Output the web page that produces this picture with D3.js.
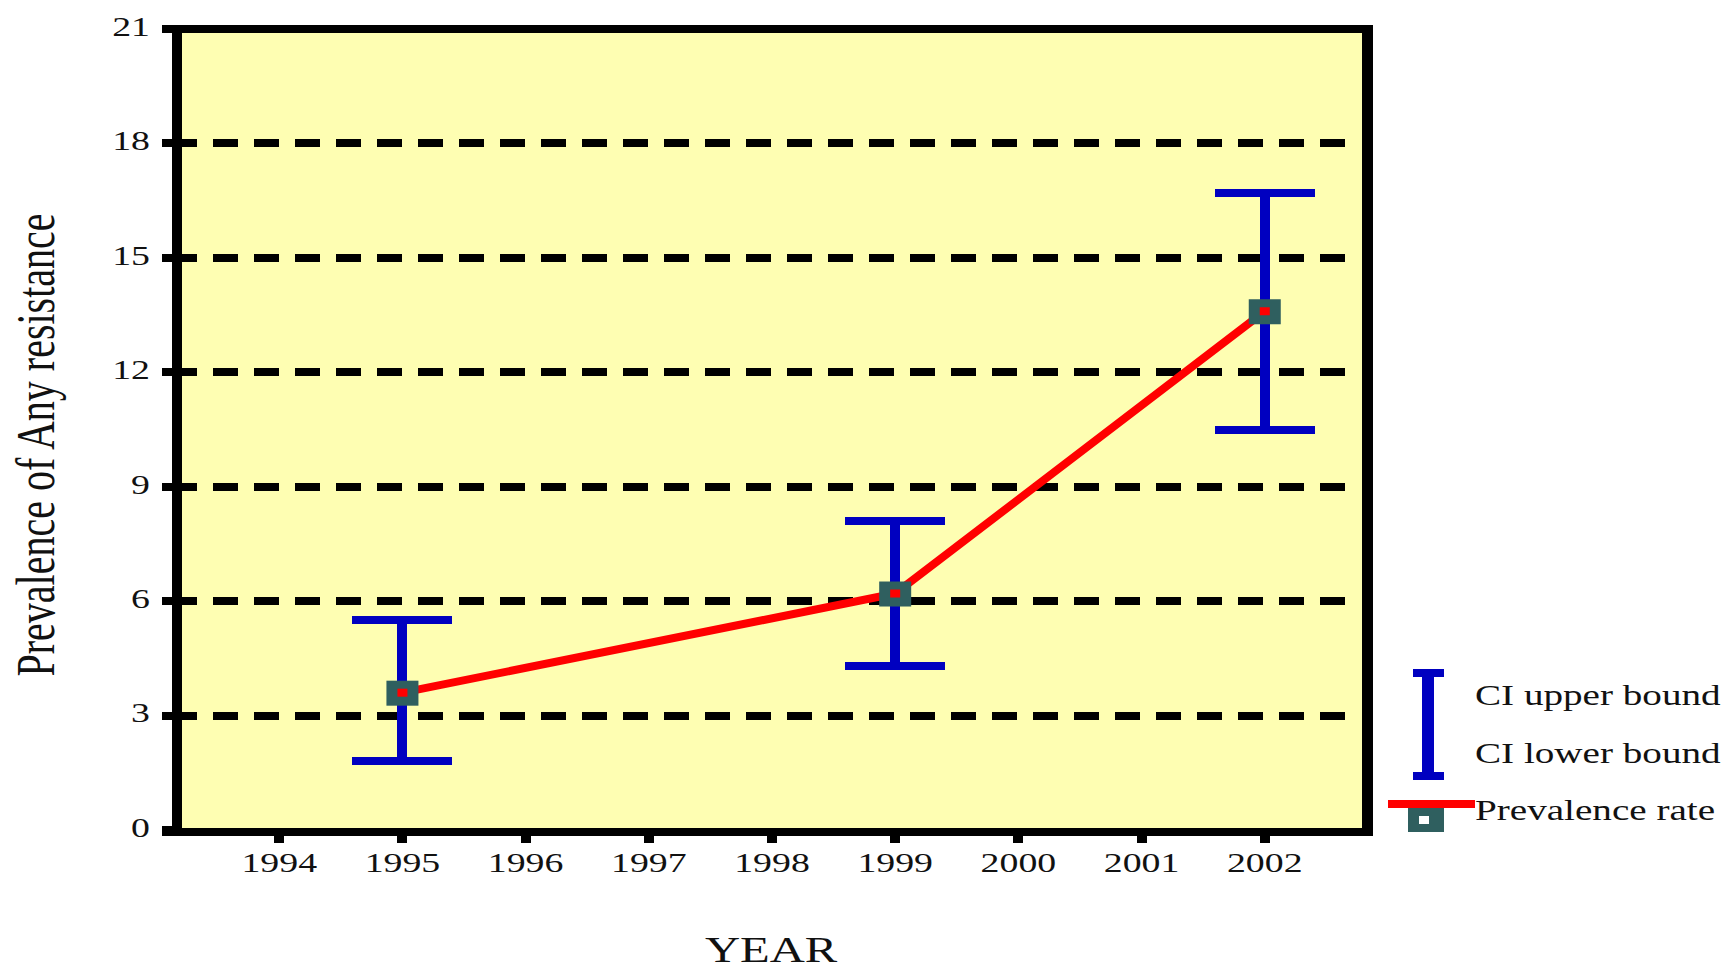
<!DOCTYPE html>
<html>
<head>
<meta charset="utf-8">
<script src="https://cdn.jsdelivr.net/npm/d3@7"></script>
<style>
    body { margin: 0; background: #ffffff; }
    svg { display: block; }
    text { font-family: 'Liberation Serif', 'Times New Roman', serif; fill: #111; }
</style>
</head>
<body>
<div id="svg_wrapper"></div>
<script>
const years = ['1994', '1995', '1996', '1997', '1998', '1999', '2000', '2001', '2002'];
const pointYears = ['1995', '1999', '2002'];
const prevalence = [3.6, 6.2, 13.6];
const ciUpper = [5.5, 8.1, 16.7];
const ciLower = [1.8, 4.3, 10.5];
const yTicks = [0, 3, 6, 9, 12, 15, 18, 21];
const gridTicks = [3, 6, 9, 12, 15, 18];
const legendLabels = ['CI upper bound', 'CI lower bound', 'Prevalence rate'];
const yTitle = 'Prevalence of Any resistance';
const xTitle = 'YEAR';

const width = 1722, height = 972;
const plot = { left: 177, right: 1367, top: 29, bottom: 832 };
const stretch = 1.35;

const colors = {
    panel : '#fefeb2',
    blue : '#0000c0',
    red : '#ff0000',
    marker : '#2f5f5f'
};

const svg = d3.select('#svg_wrapper')
.append('svg')
.attr('width', width)
.attr('height', height);

const x = d3.scalePoint()
.domain(years)
.range([plot.left, plot.right])
.padding(0.83);

const y = d3.scaleLinear()
.domain([0, 21])
.range([830, plot.top]);

// panel
svg.append('rect')
.attr('x', plot.left)
.attr('y', plot.top)
.attr('width', plot.right - plot.left)
.attr('height', plot.bottom - plot.top)
.attr('fill', colors.panel);

// dashed grid
svg.append('g')
.selectAll('line')
.data(gridTicks)
.enter()
.append('line')
.attr('x1', 172)
.attr('x2', 1347)
.attr('y1', d => y(d))
.attr('y2', d => y(d))
.attr('stroke', '#000')
.attr('stroke-width', 8)
.attr('stroke-dasharray', '25,16')
.attr('shape-rendering', 'crispEdges');

// y ticks + labels
const yAxis = svg.append('g');

yAxis.selectAll('line')
.data(yTicks)
.enter()
.append('line')
.attr('x1', 162)
.attr('x2', plot.left)
.attr('y1', d => y(d))
.attr('y2', d => y(d))
.attr('stroke', '#000')
.attr('stroke-width', 8)
.attr('shape-rendering', 'crispEdges');

yAxis.selectAll('text')
.data(yTicks)
.enter()
.append('text')
.attr('transform', d => `translate(150,${ y(d) - 3 }) scale(${ stretch },1)`)
.attr('text-anchor', 'end')
.attr('dy', '0.35em')
.style('font-size', '28px')
.text(d => d);

// x ticks + labels
const xAxis = svg.append('g');

xAxis.selectAll('line')
.data(years)
.enter()
.append('line')
.attr('x1', d => x(d))
.attr('x2', d => x(d))
.attr('y1', plot.bottom)
.attr('y2', 843)
.attr('stroke', '#000')
.attr('stroke-width', 10)
.attr('shape-rendering', 'crispEdges');

xAxis.selectAll('text')
.data(years)
.enter()
.append('text')
.attr('transform', d => `translate(${ x(d) },872) scale(${ stretch },1)`)
.attr('text-anchor', 'middle')
.style('font-size', '28px')
.text(d => d);

// frame
const frame = svg.append('g')
.attr('stroke', '#000')
.attr('shape-rendering', 'crispEdges');

frame.append('line')
.attr('x1', 162).attr('x2', 1373)
.attr('y1', plot.top).attr('y2', plot.top)
.attr('stroke-width', 8);

frame.append('line')
.attr('x1', 162).attr('x2', 1373)
.attr('y1', plot.bottom).attr('y2', plot.bottom)
.attr('stroke-width', 8);

frame.append('line')
.attr('x1', plot.left).attr('x2', plot.left)
.attr('y1', 25).attr('y2', 836)
.attr('stroke-width', 10);

frame.append('line')
.attr('x1', plot.right).attr('x2', plot.right)
.attr('y1', 25).attr('y2', 836)
.attr('stroke-width', 11);

// prevalence line
const points = pointYears.map((yr, i) => ({
    year : yr,
    value : prevalence[i],
    upper : ciUpper[i],
    lower : ciLower[i]
}));

const line = d3.line()
.x(d => x(d.year))
.y(d => y(d.value));

svg.append('path')
.datum(points)
.attr('d', line)
.attr('fill', 'none')
.attr('stroke', colors.red)
.attr('stroke-width', 8);

// error bars
const bars = svg.append('g')
.selectAll('g')
.data(points)
.enter()
.append('g');

bars.append('line')
.attr('x1', d => x(d.year))
.attr('x2', d => x(d.year))
.attr('y1', d => y(d.upper))
.attr('y2', d => y(d.lower))
.attr('stroke', colors.blue)
.attr('stroke-width', 10)
.attr('shape-rendering', 'crispEdges');

bars.selectAll('.cap')
.data(d => [d.upper, d.lower].map(v => ({ year : d.year, v : v })))
.enter()
.append('line')
.attr('class', 'cap')
.attr('x1', d => x(d.year) - 50)
.attr('x2', d => x(d.year) + 50)
.attr('y1', d => y(d.v))
.attr('y2', d => y(d.v))
.attr('stroke', colors.blue)
.attr('stroke-width', 8)
.attr('shape-rendering', 'crispEdges');

// markers
const markers = svg.append('g')
.selectAll('g')
.data(points)
.enter()
.append('g')
.attr('transform', d => `translate(${ x(d.year) },${ y(d.value) })`);

markers.append('rect')
.attr('x', -16)
.attr('y', -12)
.attr('width', 32)
.attr('height', 25)
.attr('fill', colors.marker);

markers.append('rect')
.attr('x', -5)
.attr('y', -4)
.attr('width', 10)
.attr('height', 8)
.attr('fill', colors.red);

// legend
const legend = svg.append('g');

legend.append('line')
.attr('x1', 1428).attr('x2', 1428)
.attr('y1', 673).attr('y2', 776)
.attr('stroke', colors.blue)
.attr('stroke-width', 12);

[673, 776].forEach(cy => {
    legend.append('line')
    .attr('x1', 1413).attr('x2', 1444)
    .attr('y1', cy).attr('y2', cy)
    .attr('stroke', colors.blue)
    .attr('stroke-width', 8);
});

legend.append('rect')
.attr('x', 1408).attr('y', 808)
.attr('width', 36).attr('height', 24)
.attr('fill', colors.marker);

legend.append('rect')
.attr('x', 1419).attr('y', 816)
.attr('width', 10).attr('height', 8)
.attr('fill', '#ffffff');

legend.append('line')
.attr('x1', 1388).attr('x2', 1475)
.attr('y1', 804).attr('y2', 804)
.attr('stroke', colors.red)
.attr('stroke-width', 8);

legend.selectAll('text')
.data(legendLabels)
.enter()
.append('text')
.attr('transform', (d, i) => `translate(1475,${ [705, 763, 820][i] }) scale(${ stretch },1)`)
.style('font-size', '29px')
.text(d => d);

// axis titles
svg.append('text')
.attr('transform', `translate(54,445) scale(${ stretch },1) rotate(-90)`)
.attr('text-anchor', 'middle')
.style('font-size', '40px')
.text(yTitle);

svg.append('text')
.attr('transform', `translate(771,962) scale(${ stretch },1)`)
.attr('text-anchor', 'middle')
.style('font-size', '36px')
.text(xTitle);
</script>
</body>
</html>
